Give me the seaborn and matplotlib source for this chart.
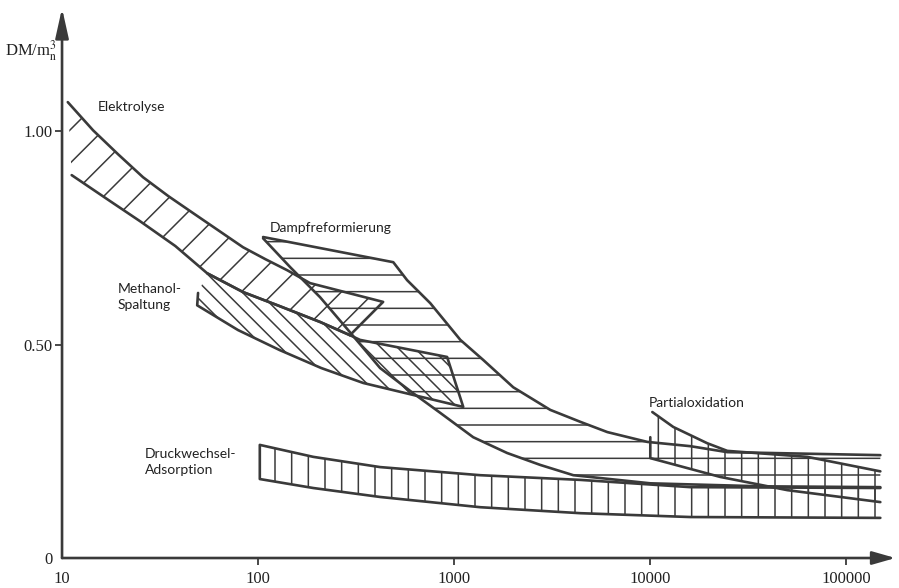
import matplotlib
matplotlib.use("Agg")
import matplotlib.pyplot as plt
import seaborn as sns
from matplotlib.ticker import FixedLocator, NullLocator

# ---------------------------------------------------------------------------
# band boundaries (x = plant size, y = DM/m3_n)
# ---------------------------------------------------------------------------
elek_up_x = [10.7, 14.4, 19.3, 25.9, 34.8, 46.6, 62.5, 83.8, 109, 141, 184, 434]
elek_up_y = [1.068, 1.002, 0.946, 0.892, 0.848, 0.808, 0.768, 0.728, 0.700, 0.674, 0.644, 0.600]
elek_lo_x = [11.2, 17.6, 25.0, 37.8, 55.0, 83.8, 129, 207, 294]
elek_lo_y = [0.897, 0.836, 0.789, 0.731, 0.667, 0.623, 0.590, 0.553, 0.522]

meth_up_x = [55.0, 83.8, 129, 207, 294, 331, 920]
meth_up_y = [0.667, 0.623, 0.590, 0.553, 0.522, 0.511, 0.471]
meth_lo_x = [49.4, 48.9, 79, 129, 210, 344, 618, 1112]
meth_lo_y = [0.621, 0.592, 0.534, 0.487, 0.445, 0.410, 0.382, 0.354]

damp_up_x = [106, 489, 575, 755, 1075, 1406, 2000, 3090, 4400, 6040, 9660, 16000, 24700, 149000]
damp_up_y = [0.752, 0.693, 0.651, 0.597, 0.511, 0.464, 0.400, 0.347, 0.319, 0.295, 0.272, 0.262, 0.248, 0.241]
damp_lo_x = [106, 146, 207, 294, 351, 419, 618, 849, 1250, 1862, 2750, 4050, 10000, 36400, 149000]
damp_lo_y = [0.749, 0.681, 0.611, 0.529, 0.487, 0.445, 0.386, 0.340, 0.283, 0.246, 0.218, 0.194, 0.175, 0.168, 0.166]

part_up_x = [10240, 13100, 19500, 24700, 63200, 149000]
part_up_y = [0.342, 0.307, 0.269, 0.251, 0.237, 0.203]
part_lo_x = [10000, 10000, 22700, 50000, 149000]
part_lo_y = [0.283, 0.234, 0.190, 0.159, 0.131]

druck_up_x = [102, 191, 419, 1358, 4400, 16000, 149000]
druck_up_y = [0.265, 0.237, 0.213, 0.194, 0.183, 0.166, 0.164]
druck_lo_x = [102, 191, 419, 1358, 4400, 16000, 149000]
druck_lo_y = [0.185, 0.164, 0.143, 0.119, 0.105, 0.096, 0.094]

x_ticks = [10, 100, 1000, 10000, 100000]
x_tick_labels = ["10", "100", "1000", "10000", "100000"]
y_ticks = [0, 0.5, 1.0]
y_tick_labels = ["0", "0.50", "1.00"]

INK = "#3a3a3a"

sns.set_style("white")
plt.rcParams["hatch.linewidth"] = 1.1
plt.rcParams["mathtext.fontset"] = "stix"

fig = plt.figure(figsize=(8.99, 5.88), dpi=100)
ax = fig.add_axes([0.069, 0.051, 0.927, 0.935])
ax.set_xscale("log")
ax.set_xlim(10, 10 ** 5.25)
ax.set_ylim(0, 1.288)


def band(up_x, up_y, lo_x, lo_y, hatch):
    # hatched area: upper edge forward, lower edge backwards
    px = list(up_x) + list(lo_x[::-1])
    py = list(up_y) + list(lo_y[::-1])
    ax.fill(px, py, facecolor="none", edgecolor=INK, linewidth=0, hatch=hatch, zorder=1)


band(elek_up_x, elek_up_y, elek_lo_x, elek_lo_y, "/")
band(meth_up_x, meth_up_y, meth_lo_x, meth_lo_y, "\\\\")
band(damp_up_x, damp_up_y, damp_lo_x, damp_lo_y, "-")
band(part_up_x, part_up_y, part_lo_x, part_lo_y, "|")
band(druck_up_x, druck_up_y, druck_lo_x, druck_lo_y, "|")

# outlines (ends of the bands left open like in the drawing)
outlines = [
    (elek_up_x + elek_lo_x[::-1][:1], elek_up_y + elek_lo_y[::-1][:1]),
    (elek_lo_x, elek_lo_y),
    (meth_up_x + meth_lo_x[::-1], meth_up_y + meth_lo_y[::-1]),
    (damp_up_x, damp_up_y),
    (damp_lo_x, damp_lo_y),
    (part_up_x, part_up_y),
    (part_lo_x, part_lo_y),
    (druck_lo_x[::-1] + druck_up_x, druck_lo_y[::-1] + druck_up_y),
]
for ox, oy in outlines:
    sns.lineplot(x=ox, y=oy, sort=False, estimator=None, color=INK,
                 linewidth=1.9, ax=ax, zorder=3)

# labels
label_kw = dict(fontfamily="Lato", fontsize=10, color="#222222", va="center", ha="left")
ax.text(15.3, 1.056, "Elektrolyse", **label_kw)
ax.text(115, 0.773, "Dampfreformierung", **label_kw)
ax.text(19.3, 0.611, "Methanol-\nSpaltung", linespacing=1.35, **label_kw)
ax.text(26.5, 0.225, "Druckwechsel-\nAdsorption", linespacing=1.35, **label_kw)
ax.text(9770, 0.363, "Partialoxidation", **label_kw)

# axes drawn as arrows
for spine in ax.spines.values():
    spine.set_visible(False)
arrow = dict(arrowstyle="-|>,head_length=0.9,head_width=0.2", color=INK,
             lw=1.9, mutation_scale=20, shrinkA=0, shrinkB=0)
ax.annotate("", xy=(0, 1), xytext=(0, 0), xycoords="axes fraction", arrowprops=arrow)
ax.annotate("", xy=(1, 0), xytext=(0, 0), xycoords="axes fraction",
            arrowprops=dict(arrow, arrowstyle="-|>,head_length=0.7,head_width=0.2"))

ax.xaxis.set_major_locator(FixedLocator(x_ticks))
ax.xaxis.set_minor_locator(NullLocator())
ax.set_xticklabels(x_tick_labels)
ax.set_yticks(y_ticks)
ax.set_yticklabels(y_tick_labels)
ax.tick_params(axis="x", direction="out", length=5, width=1.3, color=INK, pad=4,
               labelsize=12, bottom=True)
ax.tick_params(axis="y", direction="out", length=5, width=1.3, color=INK, pad=2,
               labelsize=12, left=True)
for lab in ax.get_xticklabels() + ax.get_yticklabels():
    lab.set_fontfamily("Liberation Serif")
    lab.set_color("#222222")
ax.xaxis.get_major_ticks()[0].tick1line.set_visible(False)
ax.yaxis.get_major_ticks()[0].tick1line.set_visible(False)

fig.text(0.006, 0.906, r"DM/m$_\mathrm{n}^\mathrm{3}$", fontfamily="Liberation Serif",
         fontsize=12, color="#222222", va="baseline", ha="left")

fig.savefig("out.png", dpi=100)
